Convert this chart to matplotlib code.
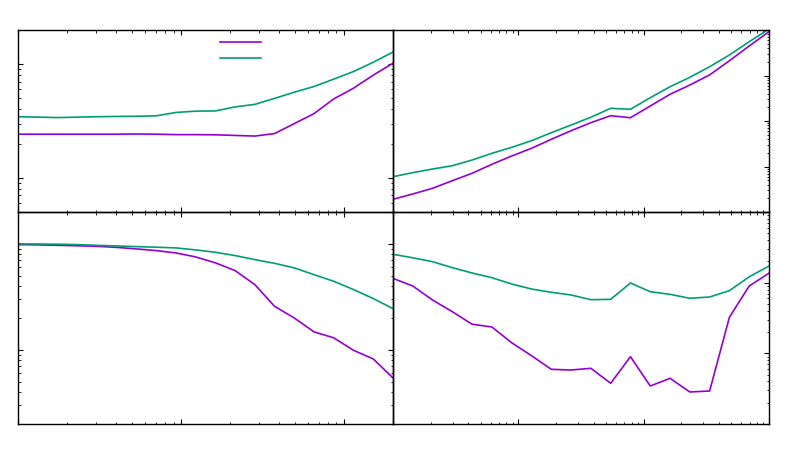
import matplotlib
matplotlib.use("Agg")
import matplotlib.pyplot as plt
from matplotlib.lines import Line2D
from matplotlib.ticker import LogLocator, NullFormatter

# x positions (log spaced samples)
x_left = [1, 1.32, 1.75, 2.31, 3.05, 4.03, 5.33, 7.04, 9.31, 12.3,
          16.3, 21.5, 28.4, 37.5, 49.6, 65.5, 86.6, 114.5, 151.3, 200]
x_right = [1, 1.438, 2.069, 2.976, 4.281, 6.158, 8.859, 12.74, 18.33, 26.37,
           37.93, 54.56, 78.48, 112.9, 162.4, 233.6, 336.0, 483.3, 695.2, 1000]

# top-left panel
tl_purple = [2.42, 2.42, 2.42, 2.42, 2.42, 2.42, 2.43, 2.42, 2.40, 2.40,
             2.39, 2.36, 2.33, 2.45, 3.00, 3.67, 4.95, 6.15, 8.01, 10.2]
tl_green = [3.45, 3.42, 3.39, 3.42, 3.45, 3.47, 3.48, 3.51, 3.76, 3.86,
            3.88, 4.21, 4.43, 5.00, 5.67, 6.36, 7.39, 8.62, 10.4, 12.8]

# top-right panel
tr_purple = [0.190, 0.249, 0.332, 0.488, 0.709, 1.12, 1.70, 2.51, 3.96, 6.12,
             9.18, 13.1, 11.8, 21.4, 38.6, 61.8, 103, 211, 445, 918]
tr_green = [0.597, 0.731, 0.881, 1.04, 1.39, 1.95, 2.64, 3.69, 5.53, 8.17,
            12.1, 19.0, 18.1, 32.5, 56.7, 91.3, 156, 282, 553, 1050]

# bottom-left panel
bl_purple = [0.985, 0.979, 0.970, 0.960, 0.949, 0.927, 0.897, 0.865, 0.822, 0.754,
             0.662, 0.560, 0.413, 0.258, 0.200, 0.148, 0.130, 0.0991, 0.0822, 0.0544]
bl_green = [1.0, 0.998, 0.9935, 0.985, 0.970, 0.957, 0.943, 0.931, 0.917, 0.878,
            0.833, 0.776, 0.711, 0.656, 0.594, 0.513, 0.444, 0.371, 0.305, 0.245]

# bottom-right panel
br_purple = [11.5, 8.97, 5.68, 3.88, 2.58, 2.36, 1.41, 0.926, 0.594, 0.581,
             0.614, 0.377, 0.896, 0.345, 0.443, 0.284, 0.293, 3.24, 8.97, 13.6]
br_green = [25.2, 22.5, 19.8, 16.3, 13.7, 11.75, 9.57, 8.13, 7.31, 6.69,
            5.74, 5.81, 9.89, 7.45, 6.84, 6.01, 6.27, 7.70, 12.1, 17.2]

PURPLE = "#9400d3"
GREEN = "#009e73"
LW = 1.2

fig = plt.figure(figsize=(7.86, 4.72), dpi=100)
W, H = 786, 472
def rect(x0, y0, x1, y1):
    return [x0 / W, 1 - y1 / H, (x1 - x0) / W, (y1 - y0) / H]

ax_tl = fig.add_axes(rect(18, 30, 393, 212))
ax_tr = fig.add_axes(rect(393, 30, 769, 212))
ax_bl = fig.add_axes(rect(18, 212, 393, 424))
ax_br = fig.add_axes(rect(393, 212, 769, 424))

panels = [
    (ax_tl, x_left, tl_purple, tl_green, (1, 200), (0.5, 20), True),
    (ax_tr, x_right, tr_purple, tr_green, (1, 1000), (0.1, 1000), False),
    (ax_bl, x_left, bl_purple, bl_green, (1, 200), (0.02, 2), True),
    (ax_br, x_right, br_purple, br_green, (1, 1000), (0.1, 100), False),
]

for ax, xs, yp, yg, xl, yl, is_left in panels:
    ax.plot(xs, yp, color=PURPLE, lw=LW)
    ax.plot(xs, yg, color=GREEN, lw=LW)
    ax.set_xscale("log")
    ax.set_yscale("log")
    ax.set_xlim(*xl)
    ax.set_ylim(*yl)
    for a in (ax.xaxis, ax.yaxis):
        a.set_major_locator(LogLocator(base=10, numticks=20))
        a.set_minor_locator(LogLocator(base=10, subs=range(2, 10), numticks=40))
        a.set_major_formatter(NullFormatter())
        a.set_minor_formatter(NullFormatter())
    ax.tick_params(which="both", direction="in", top=True, bottom=True,
                   left=is_left, right=True, labelleft=False, labelbottom=False,
                   color="black")
    ax.tick_params(which="major", length=3.3, width=0.8)
    ax.tick_params(which="minor", length=1.8, width=0.6)
    for s in ax.spines.values():
        s.set_linewidth(1.0)
        s.set_color("black")
    ax.set_facecolor("none")

handles = [Line2D([], [], color=PURPLE, lw=LW), Line2D([], [], color=GREEN, lw=LW)]
ax_tl.legend(handles, [" ", " "], loc="upper left", bbox_to_anchor=(0.5387, 0.959),
             frameon=False, fontsize=8, handlelength=3.69, handletextpad=0.2,
             borderpad=0, borderaxespad=0, labelspacing=0.56)

fig.savefig("out.png", dpi=100)
